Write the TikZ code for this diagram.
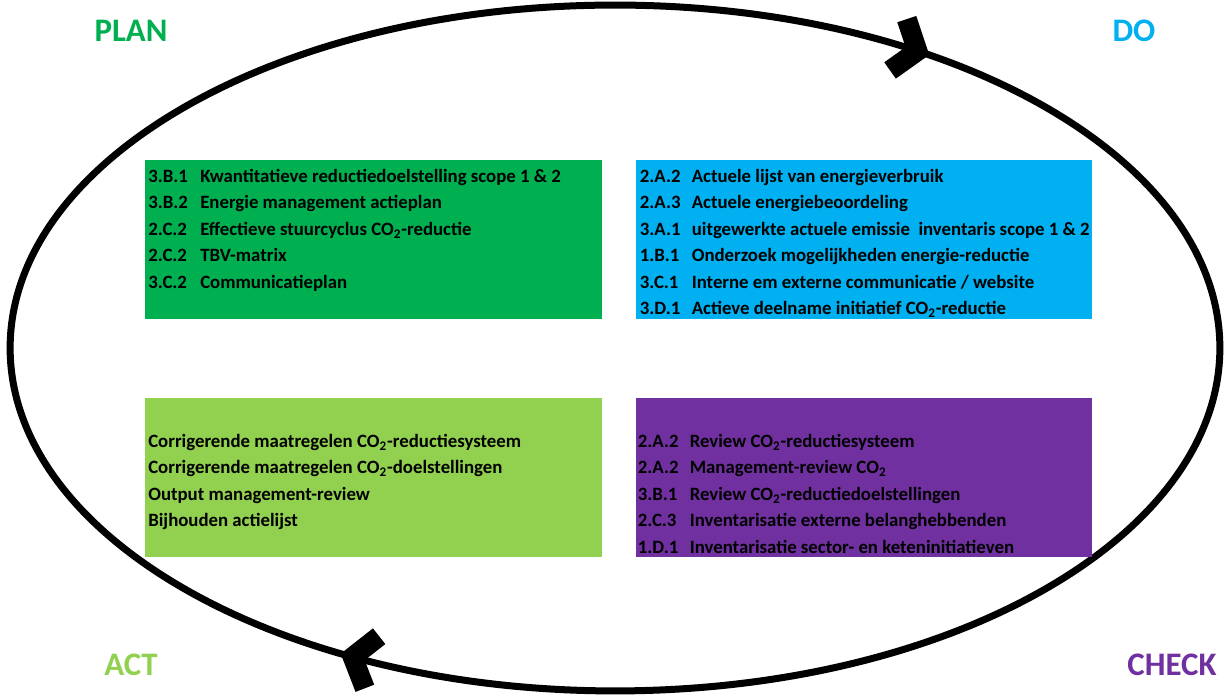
\documentclass[tikz,border=0pt]{standalone}
\usepackage{fontspec}
\setmainfont{Carlito}
\usetikzlibrary{calc}

\definecolor{plangreen}{HTML}{00B050}
\definecolor{doblue}{HTML}{00B0F0}
\definecolor{actgreen}{HTML}{92D050}
\definecolor{checkpurple}{HTML}{7030A0}
\newcommand{\itemcode}[1]{\makebox[1.04cm][l]{#1}}
\newcommand{\cotwo}{CO\textsubscript{2}}

\begin{document}
\begin{tikzpicture}[x=0.02cm, y=0.02cm,
    phase/.style={font=\fontsize{18.7}{22}\selectfont\bfseries},
    panel/.style={minimum width=9.13cm, minimum height=3.18cm, inner sep=0pt},
    items/.style={anchor=north west, inner sep=0pt, align=left, font=\fontsize{10.7}{15.09}\selectfont\bfseries},
    ring/.style={line width=0.14cm},
    cyclehead/.style={line width=0.4cm, miter limit=10}
]
\useasboundingbox (0,0) rectangle (1228,699);

% the cycle
\coordinate (C) at (615,351);
\draw[ring] (C) ellipse [x radius=12.1cm, y radius=6.86cm];
\coordinate (headDO) at ($(C)+(60:12.1cm and 6.86cm)$);
\coordinate (headACT) at ($(C)+(244.3:12.1cm and 6.86cm)$);
\draw[cyclehead, shift={(headDO)}, rotate=-18.1] (-20,27) -- (0,0) -- (-20,-27);
\draw[cyclehead, shift={(headACT)}, rotate=164.7] (-20,27) -- (0,0) -- (-20,-27);

% phase names
\node[phase, text=plangreen] (plantitle) at (131,668) {PLAN};
\node[phase, text=doblue] (dotitle) at (1134,668) {DO};
\node[phase, text=actgreen] (acttitle) at (131,34) {ACT};
\node[phase, text=checkpurple] (checktitle) at (1172,34) {CHECK};

% panels
\node[panel, fill=plangreen] (plan) at (373.5,459.5) {};
\node[panel, fill=doblue] (do) at (864,459.5) {};
\node[panel, fill=actgreen] (act) at (373.5,221.5) {};
\node[panel, fill=checkpurple] (check) at (864,221.5) {};

\node[items] (planlist) at ([shift={(3,-9)}]plan.north west) {%
  \itemcode{3.B.1}Kwantitatieve reductiedoelstelling scope 1 \& 2\\
  \itemcode{3.B.2}Energie management actieplan\\
  \itemcode{2.C.2}Effectieve stuurcyclus \cotwo-reductie\\
  \itemcode{2.C.2}TBV-matrix\\
  \itemcode{3.C.2}Communicatieplan};
\node[items] (dolist) at ([shift={(4,-9)}]do.north west) {%
  \itemcode{2.A.2}Actuele lijst van energieverbruik\\
  \itemcode{2.A.3}Actuele energiebeoordeling\\
  \itemcode{3.A.1}uitgewerkte actuele emissie~ inventaris scope 1 \& 2\\
  \itemcode{1.B.1}Onderzoek mogelijkheden energie-reductie\\
  \itemcode{3.C.1}Interne em externe communicatie / website\\
  \itemcode{3.D.1}Actieve deelname initiatief \cotwo-reductie};
\node[items] (actlist) at ([shift={(3,-36)}]act.north west) {%
  Corrigerende maatregelen \cotwo-reductiesysteem\\
  Corrigerende maatregelen \cotwo-doelstellingen\\
  Output management-review\\
  Bijhouden actielijst};
\node[items] (checklist) at ([shift={(2,-36)}]check.north west) {%
  \itemcode{2.A.2}Review \cotwo-reductiesysteem\\
  \itemcode{2.A.2}Management-review \cotwo\\
  \itemcode{3.B.1}Review \cotwo-reductiedoelstellingen\\
  \itemcode{2.C.3}Inventarisatie externe belanghebbenden\\
  \itemcode{1.D.1}Inventarisatie sector- en keteninitiatieven};
\end{tikzpicture}
\end{document}
